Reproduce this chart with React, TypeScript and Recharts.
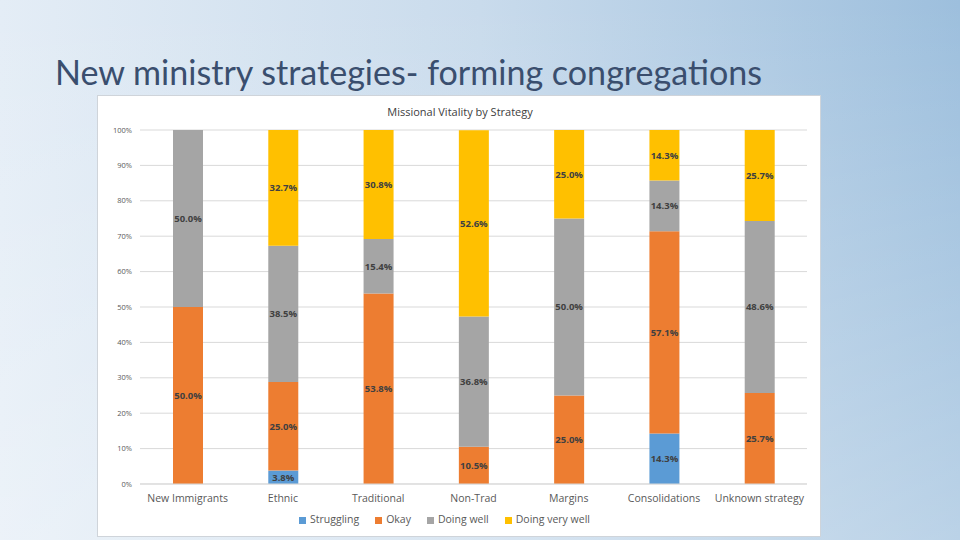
import {
  Bar,
  BarChart,
  CartesianGrid,
  LabelList,
  Legend,
  XAxis,
  YAxis,
} from 'recharts';

const strategies = [
  'New Immigrants',
  'Ethnic',
  'Traditional',
  'Non-Trad',
  'Margins',
  'Consolidations',
  'Unknown strategy',
];
const struggling = [0, 3.8, 0, 0, 0, 14.3, 0];
const okay = [50.0, 25.0, 53.8, 10.5, 25.0, 57.1, 25.7];
const doingWell = [50.0, 38.5, 15.4, 36.8, 50.0, 14.3, 48.6];
const doingVeryWell = [0, 32.7, 30.8, 52.6, 25.0, 14.3, 25.7];
const yTicks = [0, 10, 20, 30, 40, 50, 60, 70, 80, 90, 100];

const data = strategies.map((name, i) => ({
  name,
  struggling: struggling[i],
  okay: okay[i],
  doingWell: doingWell[i],
  doingVeryWell: doingVeryWell[i],
}));

const series = [
  { key: 'struggling', name: 'Struggling', color: '#5b9bd5' },
  { key: 'okay', name: 'Okay', color: '#ed7d31' },
  { key: 'doingWell', name: 'Doing well', color: '#a5a5a5' },
  { key: 'doingVeryWell', name: 'Doing very well', color: '#ffc000' },
];

const font = "'Open Sans', 'Liberation Sans', sans-serif";

function App() {
  return (
    <div
      style={{
        position: 'absolute',
        left: 0,
        top: 0,
        width: 960,
        height: 540,
        overflow: 'hidden',
        background:
          'linear-gradient(to bottom, rgba(255,255,255,0) 0%, rgba(255,255,255,0.3) 100%), linear-gradient(to right, #e4edf6 0%, #c9dbec 50%, #9dbfdd 100%)',
      }}
    >
      <svg width={960} height={100} style={{ position: 'absolute', left: 0, top: 0 }}>
        <text
          x={55}
          y={85}
          fontSize={35}
          fill="#3a4e6e"
          fontFamily="Lato, 'Open Sans', sans-serif"
          textLength={707}
          lengthAdjust="spacingAndGlyphs"
        >
          New ministry strategies- forming congregations
        </text>
      </svg>

      <div
        style={{
          position: 'absolute',
          left: 97,
          top: 95,
          width: 724,
          height: 442,
          background: '#ffffff',
          border: '1px solid #cfd4da',
          boxSizing: 'border-box',
        }}
      >
        <div
          style={{
            position: 'absolute',
            left: 0,
            top: 8,
            width: 724,
            textAlign: 'center',
            fontFamily: font,
            fontSize: 11,
            color: '#404040',
          }}
        >
          Missional Vitality by Strategy
        </div>
        <BarChart
          width={722}
          height={440}
          data={data}
          margin={{ top: 34, right: 13, left: 0, bottom: 0 }}
          style={{ fontFamily: font }}
        >
          <CartesianGrid vertical={false} stroke="#d9d9d9" />
          <XAxis
            dataKey="name"
            height={28}
            tickLine={false}
            axisLine={{ stroke: '#d9d9d9' }}
            interval={0}
            tick={{ fontSize: 10.5, fill: '#595959', dy: 3 }}
          />
          <YAxis
            width={42}
            domain={[0, 100]}
            ticks={yTicks}
            tickFormatter={(v: number) => `${v}%`}
            axisLine={false}
            tickLine={false}
            tick={{ fontSize: 7.5, fill: '#595959' }}
          />
          <Legend
            verticalAlign="bottom"
            height={24}
            iconType="square"
            iconSize={7}
            itemSorter={(item: { value: string }) =>
              series.findIndex((s) => s.name === item.value)
            }
            wrapperStyle={{ fontSize: 10.5, color: '#595959' }}
            formatter={(value: string) => (
              <span style={{ color: '#595959', marginRight: 6 }}>{value}</span>
            )}
          />
          {series.map((s) => (
            <Bar
              key={s.key}
              dataKey={s.key}
              name={s.name}
              stackId="a"
              fill={s.color}
              barSize={30}
              isAnimationActive={false}
            >
              <LabelList
                dataKey={s.key}
                position="center"
                formatter={(v: number) => (v ? `${v.toFixed(1)}%` : '')}
                style={{ fontSize: 9.5, fontWeight: 'bold', fill: '#404040' }}
              />
            </Bar>
          ))}
        </BarChart>
      </div>
    </div>
  );
}

export default App;
